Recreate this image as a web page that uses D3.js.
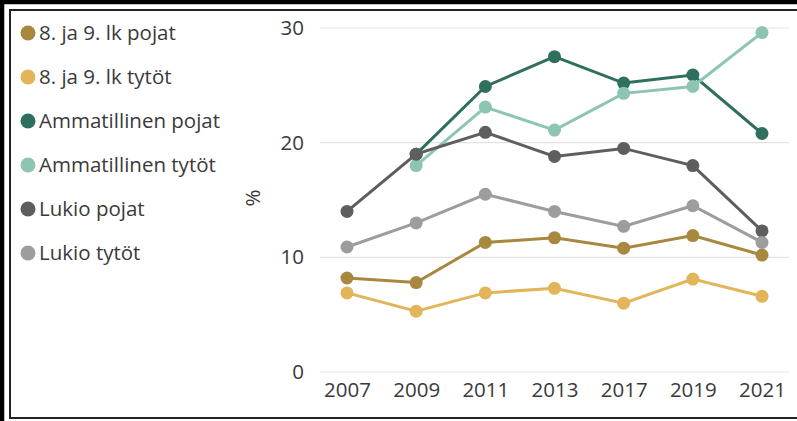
<!DOCTYPE html>
<html>
<head>
<meta charset="utf-8">
<script src="https://cdn.jsdelivr.net/npm/d3@7"></script>
<style>
  body { margin: 0; background: #fff; }
  svg { display: block; }
</style>
</head>
<body>
<div id="container"></div>
<script>
// svg size
const width = 797;
const height = 421;

// data
const years = ["2007", "2009", "2011", "2013", "2017", "2019", "2021"];
const seriesNames = ["8. ja 9. lk pojat", "8. ja 9. lk tytöt", "Ammatillinen pojat",
                     "Ammatillinen tytöt", "Lukio pojat", "Lukio tytöt"];
const peruskouluPojat = [8.2, 7.8, 11.3, 11.7, 10.8, 11.9, 10.2];
const peruskouluTytot = [6.9, 5.3, 6.9, 7.3, 6.0, 8.1, 6.6];
const ammatillinenPojat = [null, 19.0, 24.9, 27.5, 25.2, 25.9, 20.8];
const ammatillinenTytot = [null, 18.0, 23.1, 21.1, 24.3, 24.9, 29.6];
const lukioPojat = [14.0, 19.0, 20.9, 18.8, 19.5, 18.0, 12.3];
const lukioTytot = [10.9, 13.0, 15.5, 14.0, 12.7, 14.5, 11.3];
const yTicks = [0, 10, 20, 30];

const colors = ["#a8873f", "#e3b55a", "#2f6f5f", "#8ec5b2", "#5e5e5e", "#9d9d9d"];
const fontFamily = "'Open Sans', 'Noto Sans', sans-serif";
const fontSize = 20.5;
const textColor = "#3a3a3a";

// plot area
const plotLeft = 320;
const plotRight = 789;
const plotTop = 28;
const plotBottom = 372;
const dotRadius = 6.5;

const allSeries = [peruskouluPojat, peruskouluTytot, ammatillinenPojat,
                   ammatillinenTytot, lukioPojat, lukioTytot];

const svg = d3.select("#container").append("svg")
      .attr("width", width)
      .attr("height", height);

// frame
svg.append("rect")
    .attr("x", 2).attr("y", 2)
    .attr("width", width + 10).attr("height", height + 10)
    .attr("fill", "none").attr("stroke", "#000").attr("stroke-width", 4.5);
svg.append("rect")
    .attr("x", 10).attr("y", 10)
    .attr("width", width + 10).attr("height", 408)
    .attr("fill", "none").attr("stroke", "#222").attr("stroke-width", 2);

const x = d3.scalePoint()
      .domain(years)
      .range([347, 762]);

const y = d3.scaleLinear()
      .domain([0, 30])
      .range([plotBottom, plotTop]);

// gridlines
svg.append("g")
    .selectAll("line")
    .data(yTicks)
    .join("line")
    .attr("x1", plotLeft).attr("x2", plotRight)
    .attr("y1", d => y(d)).attr("y2", d => y(d))
    .attr("stroke", "#e3e3e3")
    .attr("stroke-width", 1.2);

// y axis labels
const yAxis = svg.append("g")
      .attr("transform", `translate(${plotLeft - 16},0)`)
      .call(d3.axisLeft(y).tickValues(yTicks).tickSize(0).tickPadding(0));
yAxis.select(".domain").remove();
yAxis.selectAll("text")
    .attr("font-family", fontFamily)
    .attr("font-size", fontSize)
    .attr("fill", textColor);

// x axis labels
const xAxis = svg.append("g")
      .attr("transform", `translate(0,${plotBottom + 10})`)
      .call(d3.axisBottom(x).tickSize(0).tickPadding(0));
xAxis.select(".domain").remove();
xAxis.selectAll("text")
    .attr("font-family", fontFamily)
    .attr("font-size", fontSize)
    .attr("fill", textColor);

// y title
svg.append("text")
    .attr("transform", `translate(260,198) rotate(-90)`)
    .attr("text-anchor", "middle")
    .attr("font-family", fontFamily)
    .attr("font-size", fontSize)
    .attr("fill", textColor)
    .text("%");

// lines and dots
const line = d3.line()
      .defined(d => d.v != null)
      .x(d => x(d.year))
      .y(d => y(d.v));

allSeries.forEach((values, i) => {
    const pts = values.map((v, j) => ({ year: years[j], v: v }));
    const g = svg.append("g");
    g.append("path")
	.datum(pts)
	.attr("d", line)
	.attr("fill", "none")
	.attr("stroke", colors[i])
	.attr("stroke-width", 3);
    g.selectAll("circle")
	.data(pts.filter(d => d.v != null))
	.join("circle")
	.attr("cx", d => x(d.year))
	.attr("cy", d => y(d.v))
	.attr("r", dotRadius)
	.attr("fill", colors[i]);
});

// legend
const legend = svg.append("g")
      .selectAll("g")
      .data(seriesNames)
      .join("g")
      .attr("transform", (d, i) => `translate(28,${33 + i * 44})`);
legend.append("circle")
    .attr("r", 7.5)
    .attr("fill", (d, i) => colors[i]);
legend.append("text")
    .attr("x", 11)
    .attr("dy", "0.35em")
    .attr("font-family", fontFamily)
    .attr("font-size", fontSize)
    .attr("fill", textColor)
    .text(d => d);
</script>
</body>
</html>
